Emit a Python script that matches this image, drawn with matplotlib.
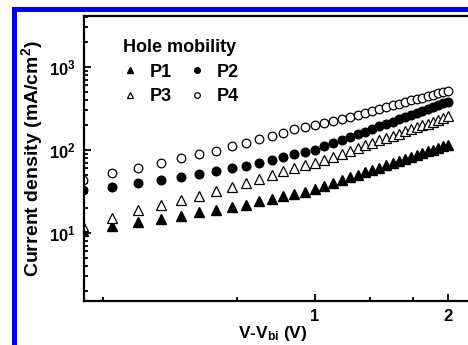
import matplotlib
matplotlib.use("Agg")
import matplotlib.pyplot as plt
from matplotlib.patches import Rectangle
from matplotlib.ticker import FixedLocator, FixedFormatter, LogLocator, NullFormatter

plt.rcParams['font.family'] = ['Liberation Sans', 'DejaVu Sans']
plt.rcParams['font.weight'] = 'bold'
plt.rcParams['mathtext.fontset'] = 'custom'
plt.rcParams['mathtext.rm'] = 'Liberation Sans:bold'
plt.rcParams['mathtext.bf'] = 'Liberation Sans:bold'
plt.rcParams['mathtext.it'] = 'Liberation Sans:bold'

# bias V - Vbi (V)
V = [0.30, 0.35, 0.40, 0.45, 0.50, 0.55, 0.60, 0.65, 0.70, 0.75, 0.80, 0.85,
     0.90, 0.95, 1.00, 1.05, 1.10, 1.15, 1.20, 1.25, 1.30, 1.35, 1.40, 1.45,
     1.50, 1.55, 1.60, 1.65, 1.70, 1.75, 1.80, 1.85, 1.90, 1.95, 2.00]

# current density (mA/cm2)
P1 = [10.5, 12.1, 13.5, 14.8, 16.0, 17.6, 18.9, 20.4, 21.6, 23.8, 25.5, 27.4,
      29.5, 31.2, 33.6, 36.6, 39.8, 43.0, 46.5, 50.0, 53.6, 57.3, 61.0, 65.0,
      69.0, 73.1, 77.3, 81.7, 86.1, 90.7, 95.4, 100, 105, 110, 115]
P2 = [32.3, 35.6, 39.7, 43.5, 46.9, 51.4, 55.9, 60.2, 64.2, 69.7, 75.8, 81.7,
      88.7, 93.8, 100, 110, 120, 131, 142, 154, 166, 179, 191, 205,
      219, 233, 248, 263, 278, 294, 311, 328, 346, 363, 378]
P3 = [11.9, 15.0, 18.6, 21.3, 25.0, 27.9, 31.5, 35.2, 39.7, 45.0, 50.0, 55.0,
      60.0, 64.7, 69.2, 75.8, 82.8, 90, 97.5, 105, 113, 121, 130, 138,
      147, 157, 167, 176, 186, 197, 207, 218, 229, 240, 252]
P4 = [43, 52, 61, 70, 79, 89, 98, 110, 122, 136, 148, 161,
      176, 188, 198, 208, 222, 236, 251, 266, 281, 296, 311, 328,
      344, 359, 376, 393, 409, 426, 444, 460, 478, 496, 514]

xticks = [1, 2]
xtick_labels = ['1', '2']
xminor = [1/3, 2/3, 4/3, 5/3]
yticks = [10, 100, 1000]
ytick_labels = [r'$\mathbf{10^{1}}$', r'$\mathbf{10^{2}}$', r'$\mathbf{10^{3}}$']

fig = plt.figure(figsize=(4.68, 3.45), dpi=100)
ax = fig.add_axes([0.1795, 0.1275, 0.87, 0.826])

h1, = ax.plot(V, P1, '^', color='black', ms=6.8, label='P1')
h2, = ax.plot(V, P2, 'o', color='black', ms=6.2, label='P2')
h3, = ax.plot(V, P3, '^', mfc='white', mec='black', mew=0.9, ms=6.8, label='P3')
h4, = ax.plot(V, P4, 'o', mfc='white', mec='black', mew=0.9, ms=6.2, label='P4')

ax.set_xscale('log')
ax.set_yscale('log')
ax.set_xlim(0.302, 2.5)
ax.set_ylim(1.5, 4100)

ax.xaxis.set_major_locator(FixedLocator(xticks))
ax.xaxis.set_major_formatter(FixedFormatter(xtick_labels))
ax.xaxis.set_minor_locator(FixedLocator(xminor))
ax.xaxis.set_minor_formatter(NullFormatter())
ax.yaxis.set_major_locator(FixedLocator(yticks))
ax.yaxis.set_major_formatter(FixedFormatter(ytick_labels))
ax.yaxis.set_minor_locator(LogLocator(base=10, subs=range(2, 10)))
ax.yaxis.set_minor_formatter(NullFormatter())

ax.tick_params(which='both', direction='in', width=1.3, labelsize=12)
ax.tick_params(which='major', length=5, pad=6)
ax.tick_params(which='minor', length=3)
for s in ax.spines.values():
    s.set_linewidth(1.6)

ax.set_xlabel(r'V-V$_{\mathrm{bi}}$ (V)', fontsize=12.5, fontweight='bold')
ax.xaxis.set_label_coords(0.464, -0.082)
ax.set_ylabel(r'Current density (mA/cm$^{2}$)', fontsize=14, fontweight='bold', labelpad=3)

ax.legend([h1, h3, h2, h4], ['P1', 'P3', 'P2', 'P4'], ncol=2, frameon=False,
          title='Hole mobility', alignment='left',
          title_fontproperties={'weight': 'bold', 'size': 13},
          prop={'weight': 'bold', 'size': 13}, markerscale=0.65,
          handlelength=0.8, handletextpad=0.7, columnspacing=1.0,
          labelspacing=0.4, borderpad=0,
          loc='upper left', bbox_to_anchor=(0.243, 0.912),
          bbox_transform=fig.transFigure)

# blue frame on the left and top
fig.add_artist(Rectangle((12/468, 0), 5/468, 1 - 7/345, transform=fig.transFigure,
                         color='blue', lw=0))
fig.add_artist(Rectangle((12/468, 1 - 12/345), 1, 5/345, transform=fig.transFigure,
                         color='blue', lw=0))

fig.savefig('out.png', dpi=100)
